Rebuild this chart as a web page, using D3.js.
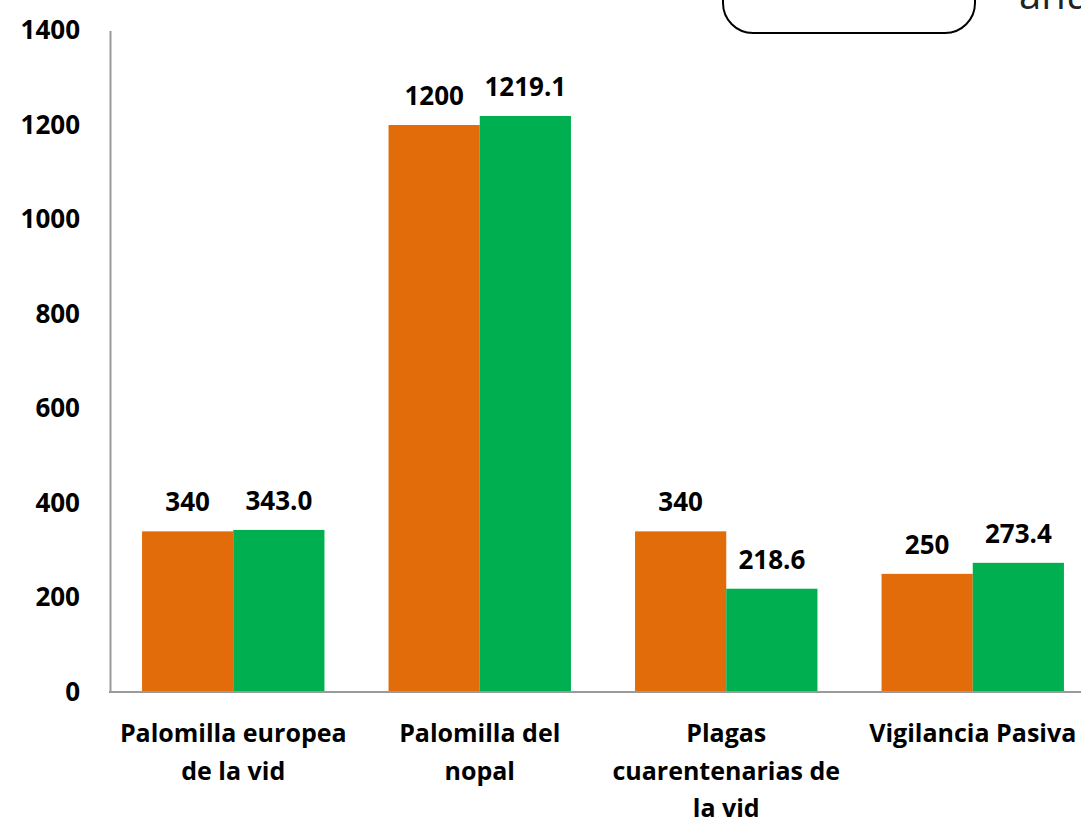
<!DOCTYPE html>
<html>
<head>
<meta charset="utf-8">
<script src="https://cdn.jsdelivr.net/npm/d3@7"></script>
<style>
  body { margin: 0; background: #fff; overflow: hidden; }
  svg { display: block; font-family: "Open Sans", "Lato", sans-serif; }
</style>
</head>
<body>
<div id="chart"></div>
<script>
// Données
const categories = [
  "Palomilla europea\nde la vid",
  "Palomilla del\nnopal",
  "Plagas\ncuarentenarias de\nla vid",
  "Vigilancia Pasiva"
];
const series = ["programado", "alcanzado"];
const programado = [340, 1200, 340, 250];
const alcanzado = [343.0, 1219.1, 218.6, 273.4];
const labelsProgramado = ["340", "1200", "340", "250"];
const labelsAlcanzado = ["343.0", "1219.1", "218.6", "273.4"];
const yTicks = [0, 200, 400, 600, 800, 1000, 1200, 1400];

const width = 1081;
const height = 817;
const colors = { programado: "#E36C0A", alcanzado: "#00B050" };
const fsNum = 26;
const fsCat = 25;

const svg = d3.select("#chart")
  .append("svg")
  .attr("width", width)
  .attr("height", height);

// Échelles
const y = d3.scaleLinear().domain([0, 1400]).range([692, 30.5]);
const x0 = d3.scaleBand()
  .domain(d3.range(categories.length))
  .range([110, 1096])
  .paddingInner(0.26)
  .paddingOuter(0.13);
const x1 = d3.scaleBand().domain(series).range([0, x0.bandwidth()]);

// Encadré partiel en haut (légende coupée)
svg.append("rect")
  .attr("x", 723).attr("y", -40)
  .attr("width", 252).attr("height", 73)
  .attr("rx", 30).attr("ry", 30)
  .attr("fill", "none")
  .attr("stroke", "#000")
  .attr("stroke-width", 2);
svg.append("text")
  .attr("x", 1019).attr("y", 9)
  .attr("font-size", 40)
  .attr("fill", "#222")
  .text("anual");

// Barres
const rows = categories.map((c, i) => ({
  i,
  values: [
    { key: "programado", value: programado[i], label: labelsProgramado[i] },
    { key: "alcanzado", value: alcanzado[i], label: labelsAlcanzado[i] }
  ]
}));

const g = svg.selectAll("g.grp")
  .data(rows)
  .join("g")
  .attr("class", "grp")
  .attr("transform", d => `translate(${x0(d.i)},0)`);

g.selectAll("rect")
  .data(d => d.values)
  .join("rect")
  .attr("x", d => x1(d.key))
  .attr("y", d => y(d.value))
  .attr("width", x1.bandwidth())
  .attr("height", d => y(0) - y(d.value))
  .attr("fill", d => colors[d.key]);

g.selectAll("text.val")
  .data(d => d.values)
  .join("text")
  .attr("class", "val")
  .attr("x", d => x1(d.key) + x1.bandwidth() / 2)
  .attr("y", d => y(d.value) - 20)
  .attr("text-anchor", "middle")
  .attr("font-size", fsNum)
  .attr("font-weight", "bold")
  .attr("fill", "#000")
  .text(d => d.label);

// Axe Y
const yAxis = svg.append("g")
  .attr("transform", "translate(110,0)")
  .call(d3.axisLeft(y).tickValues(yTicks).tickSize(0).tickPadding(30).tickFormat(d3.format("d")));
yAxis.select(".domain").attr("stroke", "#9a9a9a").attr("stroke-width", 2);
yAxis.selectAll("text")
  .attr("font-size", fsNum)
  .attr("font-weight", "bold")
  .attr("fill", "#000")
  .attr("font-family", "'Open Sans', Lato, sans-serif");

// Axe X
svg.append("line")
  .attr("x1", 109).attr("x2", width)
  .attr("y1", y(0)).attr("y2", y(0))
  .attr("stroke", "#9a9a9a")
  .attr("stroke-width", 2);

svg.selectAll("text.cat")
  .data(categories)
  .join("text")
  .attr("class", "cat")
  .attr("text-anchor", "middle")
  .attr("font-size", fsCat)
  .attr("font-weight", "bold")
  .attr("fill", "#000")
  .each(function (d, i) {
    d3.select(this).selectAll("tspan")
      .data(d.split("\n"))
      .join("tspan")
      .attr("x", x0(i) + x0.bandwidth() / 2)
      .attr("y", (t, k) => 742 + k * 37.5)
      .text(t => t);
  });
</script>
</body>
</html>
